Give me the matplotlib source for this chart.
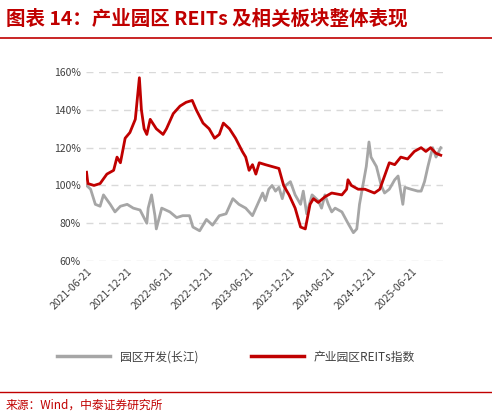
import pandas as pd
import matplotlib.pyplot as plt
import matplotlib.dates as mdates
from matplotlib.lines import Line2D

plt.rcParams['font.family'] = ['Noto Sans CJK SC', 'DejaVu Sans']

START = pd.Timestamp('2021-06-21')

# months since 2021-06-21, value in %
reits_m = [0, 0.2, 1.1, 2.0, 3.0, 4.0, 4.5, 5.0, 5.7, 6.4, 7.2, 7.8, 8.1, 8.5, 8.9, 9.4, 10.3, 11.3, 11.8,
           12.8, 13.8, 14.7, 15.6, 16.2, 17.2, 18.1, 18.9, 19.6, 20.2, 21.1, 22.0, 23.0, 23.5, 24.0, 24.5,
           25.0, 25.5, 26.4, 27.4, 28.4, 29.1, 29.9, 30.8, 31.6, 32.3, 33.0, 33.5, 34.2, 35.2, 36.2, 37.7,
           38.4, 38.6, 39.1, 40.1, 41.1, 42.5, 43.3, 44.0, 44.7, 45.5, 46.4, 47.4, 48.4, 49.4, 50.1, 50.8,
           51.6, 52.3]
reits_v = [107, 101, 100, 101, 106, 108, 115, 112, 125, 128, 135, 157, 140, 130, 127, 135, 130, 127, 130,
           138, 142, 144, 145, 140, 133, 130, 125, 127, 133, 130, 125, 118, 115, 108, 111,
           106, 112, 111, 110, 109, 100, 95, 88, 78, 77, 90, 93, 91, 94, 96, 95,
           98, 103, 100, 98, 98, 96, 98, 105, 112, 111, 115, 114, 118, 120, 118, 120,
           117, 116]

park_m = [0, 0.6, 1.3, 2.0, 2.5, 3.5, 4.2, 5.0, 6.0, 6.9, 7.9, 8.9, 9.1, 9.6, 10.1, 10.3, 11.1, 12.3, 13.3,
          14.2, 15.2, 15.7, 16.7, 17.7, 18.6, 19.6, 20.6, 21.6, 22.5, 23.5, 24.5, 25.5, 26.0, 26.4, 26.9,
          27.4, 27.9, 28.4, 28.9, 29.4, 30.1, 30.8, 31.6, 32.0, 32.5, 33.3, 34.2, 34.7, 35.2, 35.7, 36.2,
          36.7, 37.7, 38.6, 39.4, 39.9, 40.3, 40.8, 41.3, 41.7, 42.0, 42.8, 43.5, 44.0, 44.7, 45.5, 46.0,
          46.7, 47.0, 47.9, 48.9, 49.4, 49.9, 50.4, 51.1, 51.6, 52.3]
park_v = [100, 98, 90, 89, 95, 90, 86, 89, 90, 88, 87, 80, 88, 95, 84, 77, 88, 86, 83,
          84, 84, 78, 76, 82, 79, 84, 85, 93, 90, 88, 84, 92, 96, 92, 98,
          100, 97, 99, 93, 100, 102, 95, 90, 97, 85, 95, 92, 88, 95, 90, 86,
          88, 86, 80, 75, 77, 90, 100, 110, 123, 115, 110, 100, 96, 98, 103, 105,
          90, 99, 98, 97, 97, 102, 110, 120, 115, 120]

tick_labels = ['2021-06-21', '2021-12-21', '2022-06-21', '2022-12-21', '2023-06-21',
               '2023-12-21', '2024-06-21', '2024-12-21', '2025-06-21']


def to_dates(months):
    return [START + pd.Timedelta(days=m * 30.44) for m in months]


fig = plt.figure(figsize=(4.92, 4.19), dpi=100)
ax = fig.add_axes([0.175, 0.377, 0.725, 0.451])

RED = '#c00000'
GRAY = '#a6a6a6'
ax.plot(to_dates(park_m), park_v, color=GRAY, lw=2)
ax.plot(to_dates(reits_m), reits_v, color=RED, lw=2)

ax.set_ylim(60, 160)
ax.set_yticks(range(60, 161, 20))
ax.set_yticklabels([f'{v}%' for v in range(60, 161, 20)], fontsize=7.5, color='#404040')
ax.set_xlim(START - pd.Timedelta(days=2), START + pd.Timedelta(days=52.6 * 30.44))
ticks = pd.to_datetime(tick_labels)
ax.set_xticks(ticks)
ax.set_xticklabels(tick_labels, rotation=45, ha='right', rotation_mode='anchor',
                   fontsize=7.5, color='#404040')
ax.grid(axis='y', ls=(0, (5, 4)), color='#d9d9d9', lw=1)
ax.set_axisbelow(True)
for s in ax.spines.values():
    s.set_visible(False)
ax.tick_params(length=0, pad=4)

fig.text(0.012, 0.955, '图表 14：产业园区 REITs 及相关板块整体表现', color=RED, fontsize=14,
         fontweight='bold', style='italic', va='center')
fig.add_artist(Line2D([0.0, 1.0], [0.91, 0.91], color=RED, lw=1.2))

handles = [Line2D([], [], color=GRAY, lw=2.5), Line2D([], [], color=RED, lw=2.5)]
fig.legend(handles, ['园区开发(长江)', '产业园区REITs指数'], loc='center', bbox_to_anchor=(0.48, 0.148),
           ncol=2, frameon=False, fontsize=8.5, handlelength=4.5, columnspacing=4.5,
           labelcolor='#404040')

fig.add_artist(Line2D([0.0, 1.0], [0.065, 0.065], color=RED, lw=1))
fig.text(0.012, 0.033, '来源：Wind，中泰证券研究所', color=RED, fontsize=8.5, va='center')

fig.savefig('out.png', dpi=100)
